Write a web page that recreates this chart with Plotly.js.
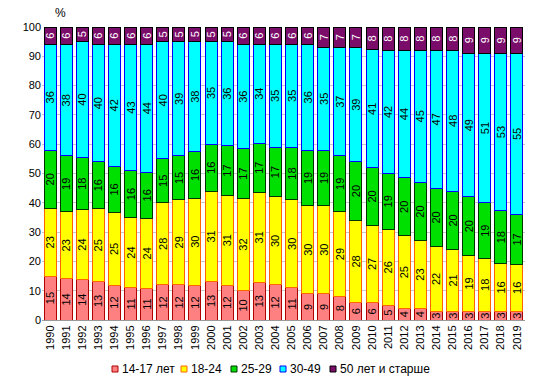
<!DOCTYPE html>
<html><head><meta charset="utf-8">
<script src="https://cdn.plot.ly/plotly-3.0.1.min.js"></script>
<style>html,body{margin:0;padding:0;background:#fff}#c{width:536px;height:387px}</style>
</head><body><div id="c"></div>
<script>
const years = ["1990","1991","1992","1993","1994","1995","1996","1997","1998","1999","2000","2001","2002","2003","2004","2005","2006","2007","2008","2009","2010","2011","2012","2013","2014","2015","2016","2017","2018","2019"];
const age14_17 = [15,14,14,13,12,11,11,12,12,12,13,12,10,13,12,11,9,9,8,6,6,5,4,4,3,3,3,3,3,3];
const age18_24 = [23,23,24,25,25,24,24,28,29,30,31,31,32,31,30,30,30,30,29,28,27,26,25,23,22,21,19,18,16,16];
const age25_29 = [20,19,18,16,16,16,16,15,15,16,16,17,17,17,17,18,19,19,19,20,20,19,20,20,20,20,20,19,18,17];
const age30_49 = [36,38,40,40,42,43,44,40,39,38,35,36,36,34,35,35,36,35,37,39,41,42,44,45,47,48,49,51,53,55];
const age50p = [6,6,5,6,6,6,6,5,5,5,5,5,6,6,6,6,6,7,7,7,8,8,8,8,8,8,9,9,9,9];
const names = ["14-17 лет","18-24","25-29","30-49","50 лет и старше"];
const fills = ["#FF8080","#FFFF00","#00E000","#00FFFF","#7A0C6A"];
const lines = ["#B00000","#FF6600","#003300","#0000FF","#000000"];
const series = [age14_17, age18_24, age25_29, age30_49, age50p];
const textColors = ["#000","#000","#000","#000","#fff"];

const W = 536, H = 387, M = {l:42, r:11, t:27, b:67};
const PW = W - M.l - M.r, PH = H - M.t - M.b;
const px2x = px => (px - M.l) / PW;
const py2y = py => (H - M.b - py) / PH;

const data = series.map((s,i)=>({
  type:'bar', x:years, y:s, name:names[i], showlegend:false,
  text:s.map(String), texttemplate:'%{text}', textposition:'inside', insidetextanchor:'middle',
  textangle:-90, constraintext:'none',
  textfont:{family:'Liberation Sans, Arial', size:11, color:textColors[i]},
  marker:{color:fills[i], line:{color:lines[i], width:1}},
  hoverinfo:'skip'
}));

// custom compact legend (small squares), positioned in pixels
const legendPx = [112, 181, 231, 280, 330];
const legendPy = 369;
const shapes = [], annotations = [];
names.forEach((n,i)=>{
  shapes.push({type:'rect', xref:'paper', yref:'paper',
    x0:px2x(legendPx[i]), x1:px2x(legendPx[i]+6), y0:py2y(legendPy+3), y1:py2y(legendPy-3),
    fillcolor:fills[i], line:{color:lines[i], width:1}});
  annotations.push({text:n, xref:'paper', yref:'paper', x:px2x(legendPx[i]+8), y:py2y(legendPy),
    xanchor:'left', yanchor:'middle', showarrow:false, font:{size:12, color:'#000'}});
});
annotations.push({text:'%', xref:'paper', yref:'paper', x:px2x(60), y:py2y(13), xanchor:'center', yanchor:'middle', showarrow:false, font:{size:12}});

const layout = {
  width:W, height:H,
  margin:{l:M.l, r:M.r, t:M.t, b:M.b, autoexpand:false},
  barmode:'stack', barnorm:'percent', bargap:0.26,
  paper_bgcolor:'#fff', plot_bgcolor:'#fff',
  font:{family:'Liberation Sans, Arial', size:11, color:'#000'},
  xaxis:{type:'category', tickangle:-90, showline:true, linecolor:'#999', ticks:'', tickfont:{size:11}, automargin:false},
  yaxis:{range:[0,100], dtick:10, showgrid:true, gridcolor:'#C8C8C8', zeroline:false, ticks:'', tickfont:{size:11}, automargin:false},
  shapes:shapes, annotations:annotations,
  showlegend:false
};
Plotly.newPlot('c', data, layout, {displayModeBar:false, staticPlot:true});
</script>
</body></html>
